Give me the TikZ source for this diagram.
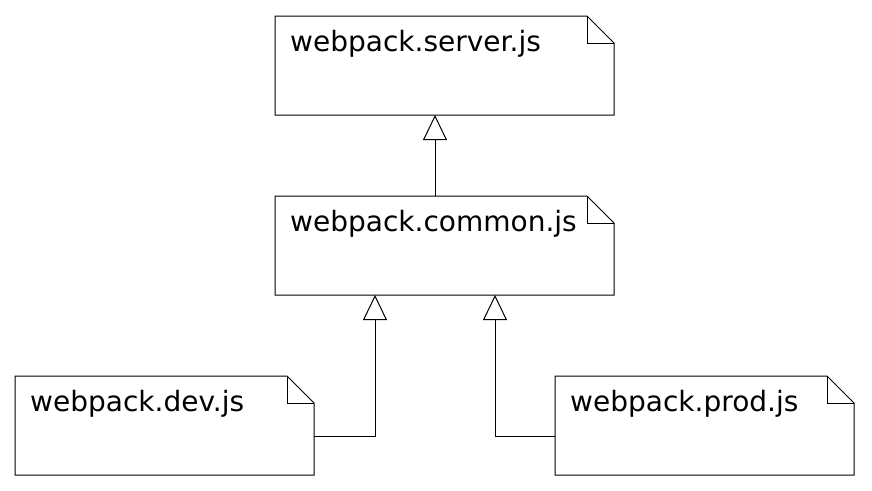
\documentclass[tikz,border=0pt]{standalone}
\usepackage{fontspec}
\setmainfont{DejaVu Sans}
\usetikzlibrary{arrows.meta}
\tikzset{
  notebox/.style={draw=none, anchor=north west, minimum width=#1, minimum height=99pt, inner sep=0pt, outer sep=0pt},
  lbl/.style={anchor=base west, inner sep=0pt, font=\fontsize{28}{32}\selectfont},
  line/.style={line width=1pt, draw=black},
  inherit/.style={line, -{Triangle[open, width=24pt, length=25pt, line width=1pt]}},
}
\newcommand{\notepath}[1]{%
  \draw[line, fill=white] (#1.north west) -- ([xshift=-27pt]#1.north east) -- ([yshift=-27pt]#1.north east) -- (#1.south east) -- (#1.south west) -- cycle;
  \draw[line] ([xshift=-27pt]#1.north east) -- ([xshift=-27pt,yshift=-27pt]#1.north east) -- ([yshift=-27pt]#1.north east);
}
\begin{document}
\begin{tikzpicture}[x=1pt, y=-1pt]
\useasboundingbox[fill=white] (0,0) rectangle (872,490);
\node[notebox=339pt] (server) at (275,16) {};
\node[notebox=339pt] (common) at (275,196) {};
\node[notebox=299pt] (dev) at (15,376) {};
\node[notebox=299pt] (prod) at (555,376) {};
\notepath{server}
\notepath{common}
\notepath{dev}
\notepath{prod}
\node[lbl] (tserver) at ([xshift=15pt, yshift=-35.5pt]server.north west) {webpack.server.js};
\node[lbl] (tcommon) at ([xshift=15pt, yshift=-35.5pt]common.north west) {webpack.common.js};
\node[lbl] (tdev) at ([xshift=15pt, yshift=-35.5pt]dev.north west) {webpack.dev.js};
\node[lbl] (tprod) at ([xshift=15pt, yshift=-35.5pt]prod.north west) {webpack.prod.js};
\coordinate (ct) at (435,196);
\coordinate (cl) at (375,295);
\coordinate (cr) at (495,295);
\draw[inherit] (ct) -- (ct |- server.south);
\draw[inherit] ([yshift=-10.5pt]dev.east) -| (cl);
\draw[inherit] ([yshift=-10.5pt]prod.west) -| (cr);
\end{tikzpicture}
\end{document}
